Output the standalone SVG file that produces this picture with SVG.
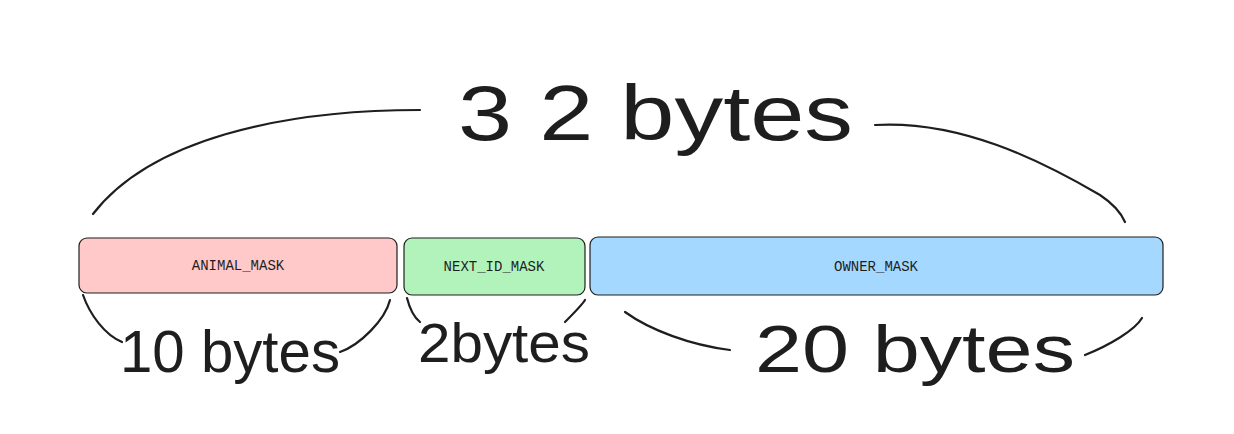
<svg xmlns="http://www.w3.org/2000/svg" width="1234" height="434" viewBox="0 0 1234 434">
<style>
.box{stroke:#1e1e1e;stroke-width:1.2}
.lbl{font-family:"Liberation Mono",monospace;font-size:14px;fill:#1e1e1e;text-anchor:middle}
.hand{font-family:"Liberation Sans",sans-serif;fill:#1e1e1e;font-weight:300}
.c{fill:none;stroke:#1e1e1e;stroke-width:2.2;stroke-linecap:round}
</style>
<rect width="1234" height="434" fill="#ffffff"/>
<g id="animal"><rect class="box" x="79" y="238" width="318" height="55" rx="8" fill="#ffc9c9"/><text class="lbl" x="238" y="270">ANIMAL_MASK</text></g>
<g id="nextid"><rect class="box" x="404" y="238" width="181" height="57" rx="8" fill="#b2f2bb"/><text class="lbl" x="494" y="271">NEXT_ID_MASK</text></g>
<g id="owner"><rect class="box" x="590" y="237" width="573" height="58" rx="8" fill="#a5d8ff"/><text class="lbl" x="876" y="271">OWNER_MASK</text></g>
<g id="labels">
<text class="hand" x="458" y="140" font-size="78" textLength="395" lengthAdjust="spacingAndGlyphs">3 2 bytes</text>
<text class="hand" x="120" y="372" font-size="60" textLength="220" lengthAdjust="spacingAndGlyphs">10 bytes</text>
<text class="hand" x="418" y="362" font-size="56" textLength="172" lengthAdjust="spacingAndGlyphs">2bytes</text>
<text class="hand" x="755" y="372" font-size="66" textLength="320" lengthAdjust="spacingAndGlyphs">20 bytes</text>
</g>
<g id="connectors">
<path class="c" d="M93 214 C150 140 280 110 420 110"/>
<path class="c" d="M875 125 C960 120 1040 160 1100 195 C1115 205 1122 215 1125 222"/>
<path class="c" d="M83 295 C90 315 105 335 122 342"/>
<path class="c" d="M340 352 C360 345 385 320 390 300"/>
<path class="c" d="M407 298 C410 310 415 318 420 322"/>
<path class="c" d="M565 322 C575 312 582 305 585 300"/>
<path class="c" d="M625 312 C650 330 690 345 730 350"/>
<path class="c" d="M1085 355 C1110 345 1135 330 1142 318"/>
</g>
</svg>
